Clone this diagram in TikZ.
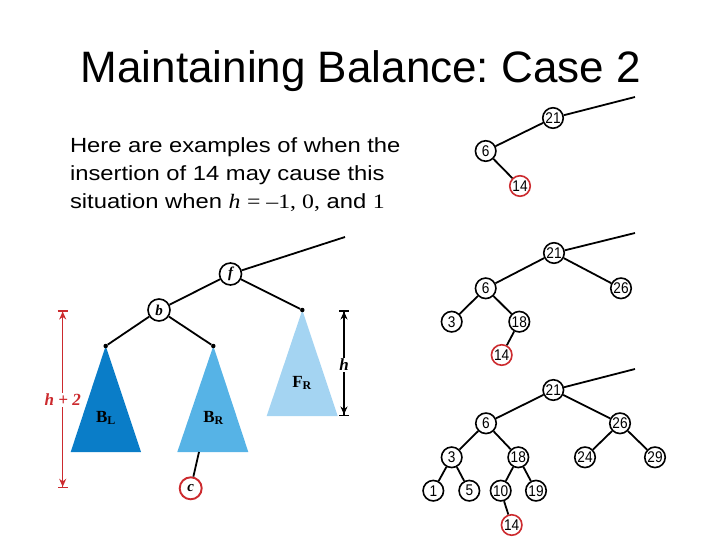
\documentclass[tikz,border=0pt]{standalone}
\usepackage{fontspec}
\setmainfont{Liberation Sans}
\newfontfamily\serifx{Liberation Serif}
\newfontfamily\bodyx[FakeStretch=1.16]{Liberation Sans}
\newfontfamily\serifbody[FakeStretch=1.16]{Liberation Serif}
\newfontfamily\numx[FakeStretch=0.88]{Liberation Sans}
\usetikzlibrary{arrows.meta}
\definecolor{dkblue}{HTML}{0A7DC8}
\definecolor{mdblue}{HTML}{56B3E6}
\definecolor{ltblue}{HTML}{A4D4F2}
\definecolor{redc}{HTML}{CC2A2E}
\tikzset{
  num/.style={circle,draw=black,line width=1.6pt,inner sep=0pt,minimum size=20.5pt,font=\numx\fontsize{15.5}{16}\selectfont,fill=white},
  newnum/.style={num,draw=redc},
  letnode/.style={circle,draw=black,line width=1.6pt,inner sep=0pt,minimum size=22pt,font=\serifx\bfseries\itshape\fontsize{15}{16}\selectfont,fill=white},
  newlet/.style={letnode,draw=redc,line width=1.9pt},
  edge/.style={line width=1.8pt,black},
  apex/.style={circle,fill=black,inner sep=0pt,minimum size=4.5pt},
  tlabel/.style={font=\serifx\bfseries\fontsize{17}{18}\selectfont,text=black},
  dimarr/.style={line width=1.5pt,{Bar[width=10pt,line width=1.5pt]Stealth[length=8pt,width=7pt]}-{Stealth[length=8pt,width=7pt]Bar[width=10pt,line width=1.5pt]}},
  txt/.style={inner sep=0pt,anchor=base west,font=\bodyx\fontsize{20.5}{28}\selectfont}
}
\begin{document}
\begin{tikzpicture}[x=1pt,y=-1pt]
\useasboundingbox (0,0) rectangle (720,540);
\frenchspacing
% title
\node[inner sep=0pt,anchor=base west,font=\fontsize{44}{50}\selectfont] (title) at (80.6,82.7) {\frenchspacing Maintaining Balance: Case 2};
% body text
\node[txt] (l1) at (69.8,152.3) {Here are examples of when the};
\node[txt] (l2) at (69.8,180.3) {insertion of 14 may cause this};
\node[txt] (l3) at (69.8,208.3) {situation when {\serifbody\itshape h} {\serifbody= {\textendash}1, 0,} and {\serifbody 1}};

% left diagram: triangles
\fill[dkblue] (105.7,346) -- (141,452) -- (70.7,452) -- cycle;
\fill[mdblue] (213.3,346) -- (248.3,452) -- (177.3,452) -- cycle;
\fill[ltblue] (302.3,310) -- (337.7,416) -- (266.7,416) -- cycle;
\node[apex] (abl) at (105.7,346) {};
\node[apex] (abr) at (213.3,346) {};
\node[apex] (afr) at (302.3,310) {};
\node[tlabel] (BL) at (106,418) {B\textsubscript{L}};
\node[tlabel] (BR) at (213.5,418) {B\textsubscript{R}};
\node[tlabel] (FR) at (302,383) {F\textsubscript{R}};

\node[letnode] (f) at (230.5,274) {f};
\node[letnode] (b) at (159,310) {b};
\node[newlet] (c) at (190.7,488.3) {c};
\coordinate (ftop) at (345,237);
\coordinate (brbot) at (199,452);
\draw[edge] (f) -- (ftop);
\draw[edge] (f) -- (b);
\draw[edge] (f) -- (afr);
\draw[edge] (b) -- (abl);
\draw[edge] (b) -- (abr);
\draw[edge] (brbot) -- (c);

% dimension arrows
\coordinate (rt) at (62.7,310);
\coordinate (rb) at (62.7,488.3);
\draw[dimarr,redc] (rt) -- (rb);
\node[fill=white,inner sep=1pt,text=redc,font=\serifx\bfseries\itshape\fontsize{17}{18}\selectfont] (h2) at (62.7,400) {h + 2};
\coordinate (kt) at (344,310);
\coordinate (kb) at (344,416);
\draw[dimarr,black] (kt) -- (kb);
\node[fill=white,inner sep=1pt,font=\serifx\bfseries\itshape\fontsize{17}{18}\selectfont] (hh) at (344,365) {h};

% tree 1
\coordinate (t1top) at (635,97);
\node[num] (a21) at (553,118) {21};
\node[num] (a6) at (485.7,151) {6};
\node[newnum] (a14) at (520,186) {14};
\draw[edge] (a21) -- (t1top);
\draw[edge] (a21) -- (a6);
\draw[edge] (a6) -- (a14);

% tree 2
\coordinate (t2top) at (635,233);
\node[num] (b21) at (554,253) {21};
\node[num] (b6) at (485.7,288.3) {6};
\node[num] (b26) at (621,288.3) {26};
\node[num] (b3) at (451.7,321.7) {3};
\node[num] (b18) at (519.3,321.7) {18};
\node[newnum] (b14) at (501.7,355) {14};
\draw[edge] (b21) -- (t2top);
\draw[edge] (b21) -- (b6);
\draw[edge] (b21) -- (b26);
\draw[edge] (b6) -- (b3);
\draw[edge] (b6) -- (b18);
\draw[edge] (b18) -- (b14);

% tree 3
\coordinate (t3top) at (635,369);
\node[num] (c21) at (553.3,390) {21};
\node[num] (c6) at (486,423.3) {6};
\node[num] (c26) at (620,423.3) {26};
\node[num] (c3) at (451.7,457.3) {3};
\node[num] (c18) at (518.3,457.3) {18};
\node[num] (c24) at (585,457.3) {24};
\node[num] (c29) at (655,457.3) {29};
\node[num] (c1) at (433.3,490.7) {1};
\node[num] (c5) at (469.3,490.7) {5};
\node[num] (c10) at (500.7,490.7) {10};
\node[num] (c19) at (536,490.7) {19};
\node[newnum] (c14) at (511.7,525) {14};
\draw[edge] (c21) -- (t3top);
\draw[edge] (c21) -- (c6);
\draw[edge] (c21) -- (c26);
\draw[edge] (c6) -- (c3);
\draw[edge] (c6) -- (c18);
\draw[edge] (c26) -- (c24);
\draw[edge] (c26) -- (c29);
\draw[edge] (c3) -- (c1);
\draw[edge] (c3) -- (c5);
\draw[edge] (c18) -- (c10);
\draw[edge] (c18) -- (c19);
\draw[edge] (c10) -- (c14);
\end{tikzpicture}
\end{document}
